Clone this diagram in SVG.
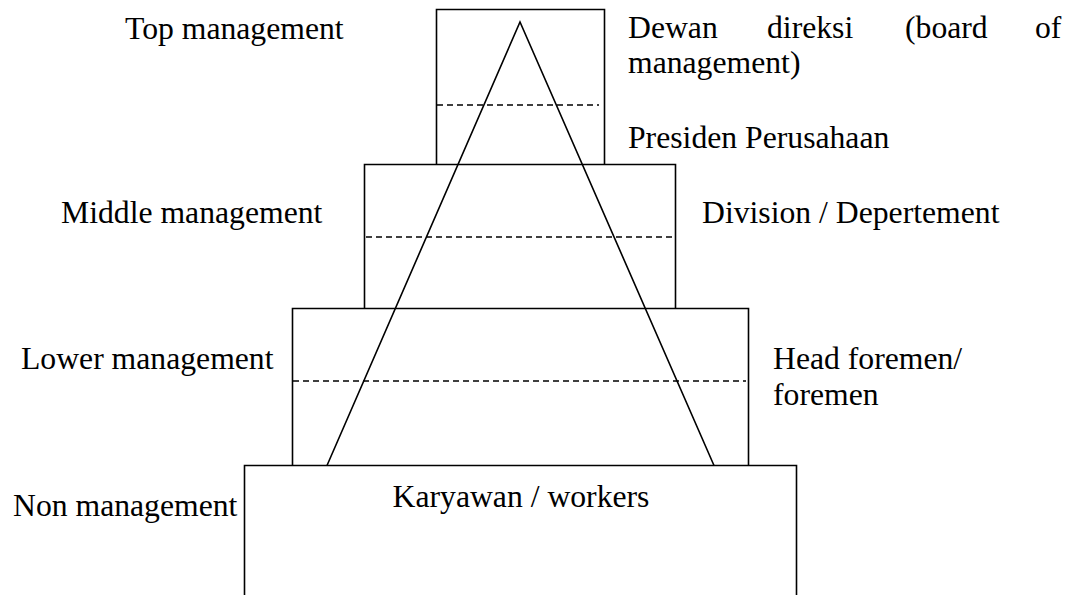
<svg xmlns="http://www.w3.org/2000/svg" width="1073" height="595" viewBox="0 0 1073 595">
<style>
.box{fill:none;stroke:#000;stroke-width:1.6}
.dash{fill:none;stroke:#000;stroke-width:1.6;stroke-dasharray:6 4}
.tri{fill:none;stroke:#000;stroke-width:1.6}
text{font-family:"Liberation Serif","Times New Roman",serif;font-size:31.7px;fill:#000}
</style>
<rect width="1073" height="595" fill="#fff"/>
<g id="level-non">
<path class="box" d="M244.5 600 V465.5 H796.5 V600"/>
<text x="521" y="507" text-anchor="middle">Karyawan / workers</text>
<text x="13" y="516">Non management</text>
</g>
<g id="level-lower">
<path class="box" d="M292.5 465.5 V308.5 H748.5 V465.5"/>
<line class="dash" x1="293" y1="381" x2="746" y2="381"/>
<text x="21" y="369">Lower management</text>
<text x="773" y="369">Head foremen/</text>
<text x="773" y="405">foremen</text>
</g>
<g id="level-middle">
<path class="box" d="M364.5 308.5 V164.5 H675.5 V308.5"/>
<line class="dash" x1="366" y1="237" x2="673" y2="237"/>
<text x="61" y="223">Middle management</text>
<text x="702" y="223">Division / Depertement</text>
</g>
<g id="level-top">
<path class="box" d="M436.5 164.5 V9.5 H604.5 V164.5"/>
<line class="dash" x1="437" y1="105" x2="599" y2="105"/>
<text x="125" y="39">Top management</text>
<text x="628" y="38">Dewan</text>
<text x="767" y="38">direksi</text>
<text x="905" y="38">(board</text>
<text x="1035" y="38">of</text>
<text x="628" y="73">management)</text>
<text x="628" y="148">Presiden Perusahaan</text>
</g>
<g id="connectors">
<polyline class="tri" points="327,465.5 520,22 714,465.5"/>
</g>
</svg>
